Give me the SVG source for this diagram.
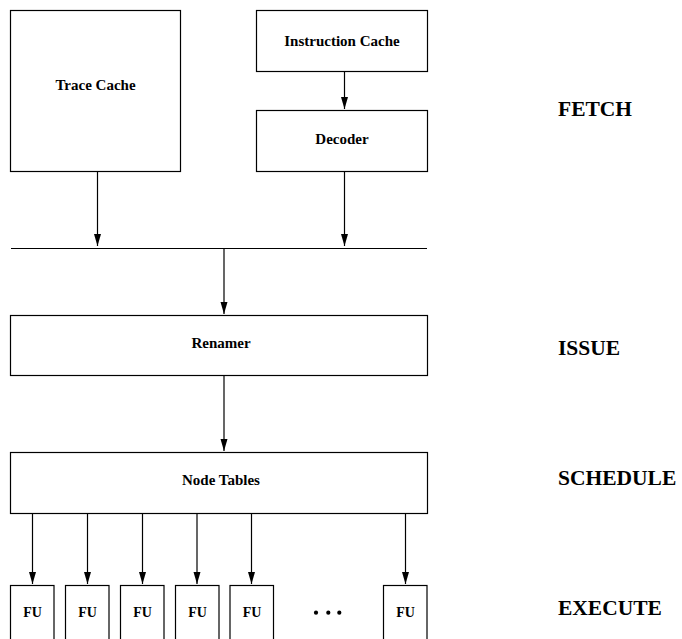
<svg xmlns="http://www.w3.org/2000/svg" width="682" height="639" viewBox="0 0 682 639">
<style>
  .box { fill: #ffffff; stroke: #000000; stroke-width: 1.2; }
  .lbl { font-family: "Liberation Serif", "Times New Roman", serif; font-weight: bold; font-size: 15px; text-anchor: middle; fill: #000000; }
  .fu { font-family: "Liberation Serif", "Times New Roman", serif; font-weight: bold; font-size: 14px; text-anchor: middle; fill: #000000; }
  .stage { font-family: "Liberation Serif", "Times New Roman", serif; font-weight: bold; font-size: 21.5px; fill: #000000; }
  .conn { stroke: #000000; stroke-width: 1.2; fill: none; }
  .arr { stroke: #000000; stroke-width: 1.2; fill: none; marker-end: url(#ah); }
</style>
<defs>
  <marker id="ah" markerUnits="userSpaceOnUse" markerWidth="12" markerHeight="8" refX="12" refY="4" orient="auto">
    <path d="M0,0.5 L12,4 L0,7.5 z" fill="#000000"/>
  </marker>
</defs>
<rect width="682" height="639" fill="#ffffff"/>

<g id="trace-cache">
  <rect class="box" x="10.5" y="10.5" width="170" height="161"/>
  <text class="lbl" x="95.5" y="90">Trace Cache</text>
</g>
<g id="instruction-cache">
  <rect class="box" x="256.5" y="10.5" width="171" height="61"/>
  <text class="lbl" x="342" y="46">Instruction Cache</text>
</g>
<g id="decoder">
  <rect class="box" x="256.5" y="110.5" width="171" height="61"/>
  <text class="lbl" x="342" y="144">Decoder</text>
</g>
<g id="renamer">
  <rect class="box" x="10.5" y="315.5" width="417" height="60"/>
  <text class="lbl" x="221" y="347.5">Renamer</text>
</g>
<g id="node-tables">
  <rect class="box" x="10.5" y="452.5" width="417" height="61"/>
  <text class="lbl" x="221" y="485">Node Tables</text>
</g>
<g id="fu1">
  <rect class="box" x="10.5" y="585.5" width="43.5" height="70"/>
  <text class="fu" x="32.5" y="616.5">FU</text>
</g>
<g id="fu2">
  <rect class="box" x="65.5" y="585.5" width="43.5" height="70"/>
  <text class="fu" x="87.5" y="616.5">FU</text>
</g>
<g id="fu3">
  <rect class="box" x="120.5" y="585.5" width="43.5" height="70"/>
  <text class="fu" x="142.5" y="616.5">FU</text>
</g>
<g id="fu4">
  <rect class="box" x="175.5" y="585.5" width="43.5" height="70"/>
  <text class="fu" x="197.5" y="616.5">FU</text>
</g>
<g id="fu5">
  <rect class="box" x="230" y="585.5" width="43.5" height="70"/>
  <text class="fu" x="252" y="616.5">FU</text>
</g>
<g id="fu-n">
  <rect class="box" x="383.5" y="585.5" width="43.5" height="70"/>
  <text class="fu" x="405.5" y="616.5">FU</text>
</g>
<g id="ellipsis">
  <circle cx="316" cy="612.7" r="2.1" fill="#000000"/>
  <circle cx="328.3" cy="612.7" r="2.1" fill="#000000"/>
  <circle cx="339.3" cy="612.7" r="2.1" fill="#000000"/>
</g>

<g id="connectors">
  <line class="arr" x1="97.5" y1="171.5" x2="97.5" y2="246"/>
  <line class="arr" x1="344.5" y1="71.5" x2="344.5" y2="109"/>
  <line class="arr" x1="344.5" y1="171.5" x2="344.5" y2="246"/>
  <line class="conn" x1="11" y1="248.5" x2="427" y2="248.5"/>
  <line class="arr" x1="224" y1="248.5" x2="224" y2="314"/>
  <line class="arr" x1="224" y1="375.5" x2="224" y2="451"/>
  <line class="arr" x1="32.5" y1="513.5" x2="32.5" y2="584"/>
  <line class="arr" x1="87.5" y1="513.5" x2="87.5" y2="584"/>
  <line class="arr" x1="142.5" y1="513.5" x2="142.5" y2="584"/>
  <line class="arr" x1="197" y1="513.5" x2="197" y2="584"/>
  <line class="arr" x1="251.5" y1="513.5" x2="251.5" y2="584"/>
  <line class="arr" x1="405.5" y1="513.5" x2="405.5" y2="584"/>
</g>

<g id="stages">
  <text class="stage" x="558" y="116">FETCH</text>
  <text class="stage" x="558" y="354.5">ISSUE</text>
  <text class="stage" x="558" y="485">SCHEDULE</text>
  <text class="stage" x="558" y="615">EXECUTE</text>
</g>
</svg>
